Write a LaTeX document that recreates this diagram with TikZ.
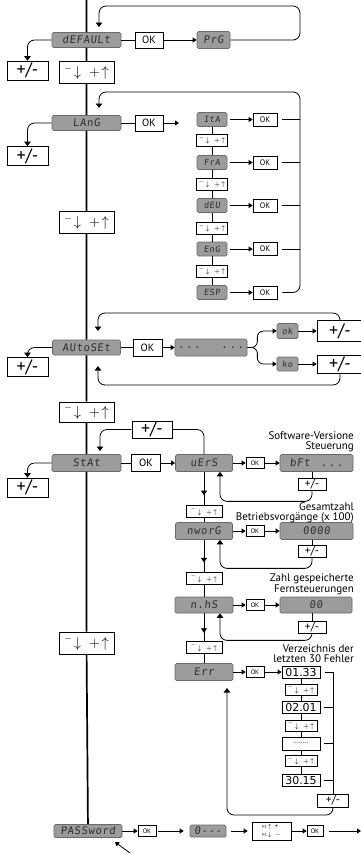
\documentclass[tikz,border=0pt]{standalone}
\usepackage{fontspec}
\setmainfont{PT Sans}
\newfontfamily\segfont{DejaVu Sans Mono}[FakeSlant=0.1, LetterSpace=6]
\newfontfamily\valfont{DejaVu Sans}
\usepackage{xcolor}
\usepackage{tikz}
\usetikzlibrary{arrows.meta,decorations.markings}
\definecolor{dispgrey}{HTML}{9C9C9C}
\definecolor{dispedge}{HTML}{6A6A6A}
\definecolor{disptext}{HTML}{2E2E2E}

\newcommand{\updn}{$^{-}\!\downarrow\;{+}\!\uparrow$}

\begin{document}
\begin{tikzpicture}[
  x=1pt, y=-1pt,
  sz/.style 2 args={minimum width=#1, minimum height=#2},
  disp/.style={draw=dispedge, fill=dispgrey, rounded corners=1.5pt, inner sep=0pt,
               line width=.7pt, text=disptext, font=\segfont\fontsize{10.5}{10.5}\selectfont},
  dispsm/.style={disp, font=\segfont\fontsize{8.5}{8.5}\selectfont},
  keybox/.style={draw=black, fill=white, inner sep=0pt, line width=.7pt},
  okbig/.style={keybox, font=\fontsize{10.5}{10.5}\selectfont, sz={28}{16}},
  okmid/.style={keybox, font=\fontsize{8}{8}\selectfont, sz={24}{13}},
  oksm/.style={keybox, font=\fontsize{6.5}{6.5}\selectfont, sz={18}{11}},
  pmbig/.style={keybox, font=\fontsize{18}{18}\selectfont, sz={41}{19}},
  pmsm/.style={keybox, font=\fontsize{11.5}{11.5}\selectfont, sz={28}{12}},
  updnbig/.style={keybox, font=\fontsize{14}{14}\selectfont, sz={55}{22}},
  updnsm/.style={keybox, font=\fontsize{7.5}{7.5}\selectfont, sz={32}{11}},
  valbox/.style={keybox, font=\valfont\fontsize{11}{11}\selectfont, sz={38}{12}},
  note/.style={align=right, inner sep=0pt, font=\fontsize{11}{10}\selectfont},
  line/.style={line width=.8pt},
  axis/.style={line width=1.7pt},
  arr/.style={line, -{Triangle[length=4pt,width=5pt]}},
  back/.style={line, rounded corners=7pt, -{Triangle[length=4.5pt,width=6.5pt]}},
  midarr/.style={line, postaction={decorate, decoration={markings,
      mark=at position #1 with {\arrow{Triangle[length=4.5pt,width=6pt]}}}}}
]
\useasboundingbox (0,0) rectangle (361,854);

% main column
\coordinate (top) at (86.5,0);
\node[disp, sz={69}{15}] (def) at (86.5,40) {dEFAULt};
\node[updnbig] (k1) at (86.5,72.5) {\updn};
\node[disp, sz={69}{15}] (lang) at (86.5,123) {LAnG};
\node[updnbig] (k2) at (86.5,222.5) {\updn};
\node[disp, sz={68}{15}] (auto) at (86.5,347.5) {AUtoSEt};
\node[updnbig, sz={55}{20}] (k3) at (86.5,412) {\updn};
\node[disp, sz={69}{17}] (stat) at (86.5,463) {StAt};
\node[updnbig] (k4) at (86.5,643) {\updn};
\node[disp, sz={68}{13}] (pass) at (88,831) {PASSword};
\draw[axis] (top) -- (def) -- (k1) -- (lang) -- (k2) -- (auto) -- (k3) -- (stat) -- (k4) -- (pass);

% +/- on the left
\node[pmbig] (pm1) at (27.5,70.5) {+/-};
\node[pmbig] (pm2) at (27.5,156) {+/-};
\node[pmbig] (pm3) at (27.5,367) {+/-};
\node[pmbig] (pm4) at (27.5,487.5) {+/-};
\draw[back] (def.west) -| (pm1.north);
\draw[back] (lang.west) -| (pm2.north);
\draw[back] (auto.west) -| (pm3.north);
\draw[back] (stat.west) -| (pm4.north);

% default
\node[okbig] (ok1) at (149,40) {OK};
\node[disp, sz={33}{17}] (prg) at (213.5,40) {PrG};
\coordinate (din) at (99,27);
\draw[line] (def) -- (ok1);
\draw[arr] (ok1) -- (prg);
\draw[back] (prg.east) -| (300,6) -| (din);

% language
\node[okbig] (ok2) at (149,123) {OK};
\coordinate (lin) at (179,123);
\draw[line] (lang) -- (ok2);
\draw[arr] (ok2) -- (lin);
\foreach \n/\t/\y in {ita/ItA/119.5, fra/FrA/162.5, deu/dEU/205.5, eng/EnG/249, esp/ESP/292.5} {
  \node[dispsm, sz={30}{14}] (\n) at (212,\y) {\t};
  \node[okmid] (o\n) at (265,\y) {OK};
  \draw[arr, shorten <=3pt] (\n) -- (o\n);
}
\foreach \n/\y in {kl1/140.5, kl2/184, kl3/228, kl4/271.5}
  \node[updnsm, sz={31}{12}] (\n) at (212,\y) {\updn};
\draw[line] (ita) -- (kl1) -- (fra) -- (kl2) -- (deu) -- (kl3) -- (eng) -- (kl4) -- (esp);
\coordinate (lrx) at (300,92);
\coordinate (lgin) at (99,108);
\draw[back, shorten <=5pt] (oesp.east) -| (lrx) -| (lgin);
\foreach \n in {ita,fra,deu,eng}
  \draw[line, shorten <=5pt] (o\n.east) -- (o\n.east -| lrx);

% autoset
\node[okbig, sz={29}{17}] (ok3) at (147.5,347.5) {OK};
\node[disp, sz={72}{17}] (dots) at (211,347.5) {.\,.\,.\quad\quad.\,.\,.};
\node[dispsm, sz={21}{15}] (okk) at (287.5,331) {ok};
\node[dispsm, sz={21}{14}] (koo) at (287.5,364) {ko};
\node[pmbig, sz={46}{21}] (pa) at (340,331) {+/-};
\node[pmbig, sz={46}{18}] (pb) at (340,364) {+/-};
\coordinate (ain) at (98,331);
\coordinate (aup) at (98,366);
\draw[line] (auto) -- (ok3);
\draw[arr] (ok3) -- (dots);
\draw[arr, rounded corners=6pt] (dots.east) -- ++(10,0) |- (okk.west);
\draw[arr, rounded corners=6pt] (dots.east) -- ++(10,0) |- (koo.west);
\draw[arr] (okk) -- (pa);
\draw[arr] (koo) -- (pb);
\draw[back] (pa.north) |- (98,313) -- (ain);
\draw[back] (pb.south) |- (98,385) -- (aup);

% stat
\node[pmbig, sz={40}{17}] (pmt) at (152,429.5) {+/-};
\node[okbig, sz={29}{17}] (ok4) at (146,463) {OK};
\coordinate (sin) at (100,451);
\draw[line] (stat) -- (ok4);
\draw[back] (pmt.west) -| (sin);

\node[disp, sz={57}{17}] (vers) at (204,463) {uErS};
\node[oksm] (os1) at (255,463) {OK};
\node[disp, sz={73}{17}] (bft) at (316.5,463) {bFt\quad.\,.\,.};
\node[pmsm] (pm5) at (312,484) {+/-};
\node[note, anchor=south east] (lb1) at (354,452) {Software-Versione\\Steuerung};
\draw[arr] (ok4) -- (vers);
\draw[arr] (vers) -- (os1);
\draw[arr] (os1) -- (bft);
\draw[line] (bft.south -| pm5) -- (pm5);
\draw[line, rounded corners=7pt] (pmt.east) -| (vers.north);
\draw[back] (pm5.south) -- ++(0,11) -| ([xshift=16pt]vers.south);

\node[updnsm, sz={36}{12}] (ks1) at (204,511.5) {\updn};
\node[disp, sz={57}{17}] (worg) at (204,531) {nworG};
\node[oksm] (os2) at (255,531) {OK};
\node[disp, sz={73}{17}] (cnt) at (316.5,531) {0000};
\node[pmsm] (pm6) at (312,551) {+/-};
\node[note, anchor=south east] (lb2) at (354,523) {Gesamtzahl\\Betriebsvorgänge (x 100)};
\draw[midarr=.7] (vers) -- (ks1);
\draw[line] (ks1) -- (worg);
\draw[arr] (worg) -- (os2);
\draw[arr] (os2) -- (cnt);
\draw[line] (cnt.south -| pm6) -- (pm6);
\draw[back] (pm6.south) -- ++(0,11) -| ([xshift=16pt]worg.south);

\node[updnsm, sz={36}{12}] (ks2) at (204,578.5) {\updn};
\node[disp, sz={58}{16}] (nhs) at (204,605) {n.hS};
\node[oksm] (os3) at (255,605) {OK};
\node[disp, sz={72}{16}] (num) at (316,605) {00};
\node[pmsm] (pm7) at (312,627) {+/-};
\node[note, anchor=south east] (lb3) at (354,595) {Zahl gespeicherte\\Fernsteuerungen};
\draw[midarr=.7] (worg) -- (ks2);
\draw[line] (ks2) -- (nhs);
\draw[arr] (nhs) -- (os3);
\draw[arr] (os3) -- (num);
\draw[line] (num.south -| pm7) -- (pm7);
\draw[back] (pm7.south) -- ++(0,7) -| ([xshift=16pt]nhs.south);

% error list
\node[updnsm, sz={36}{12}] (ks3) at (204,647.5) {\updn};
\node[disp, sz={58}{17}] (err) at (204,672) {Err};
\node[oksm] (os4) at (255,672) {OK};
\node[note, anchor=south east] (lb4) at (354,663) {Verzeichnis der\\letzten 30 Fehler};
\node[valbox] (e1) at (301,672) {01.33};
\node[updnsm] (ke1) at (301,689.5) {\updn};
\node[valbox] (e2) at (301,707) {02.01};
\node[updnsm] (ke2) at (301,725.5) {\updn};
\node[valbox, sz={38}{13}, font=\fontsize{7}{7}\selectfont] (e3) at (301,743.5) {........};
\node[updnsm] (ke3) at (301,761) {\updn};
\node[valbox] (e4) at (301,780.5) {30.15};
\node[pmsm, sz={31}{13}] (pm8) at (333,800.5) {+/-};
\coordinate (ein) at (227,688);
\draw[midarr=.7] (nhs) -- (ks3);
\draw[line] (ks3) -- (err);
\draw[arr] (err) -- (os4);
\draw[arr] (os4) -- (e1);
\draw[line] (e1) -- (ke1) -- (e2) -- (ke2) -- (e3) -- (ke3) -- (e4);
\draw[line, shorten <=5pt] (e1.east) -| (pm8.north);
\foreach \n in {e2,e3,e4}
  \draw[line, shorten <=4pt] (\n.east) -- (\n.east -| pm8.north);
\draw[back] (pm8.south) |- (227,815) -- (ein);

% password
\node[oksm] (po1) at (147,831) {OK};
\node[disp, sz={36}{12}] (zero) at (208,831) {0---};
\node[keybox, sz={39}{18}, align=left, font=\fontsize{6.5}{7.5}\selectfont] (p12) at (271.5,831)
  {{\fontsize{4}{4}\selectfont P1}\,$\uparrow$\enspace+\\{\fontsize{4}{4}\selectfont P2}\,$\downarrow$\enspace$-$};
\node[oksm, sz={16}{11}] (po2) at (315,831) {OK};
\coordinate (pout) at (361,831);
\coordinate (tail) at (130,853);
\coordinate (tip) at (115,842);
\draw[arr] (pass) -- (po1);
\draw[arr, shorten <=2pt, shorten >=6pt] (po1) -- (zero);
\draw[arr, shorten <=5pt, shorten >=4pt] (zero) -- (p12);
\draw[arr] (p12) -- (po2);
\draw[arr, shorten <=6pt] (po2) -- (pout);
\draw[arr] (tail) -- (tip);
\end{tikzpicture}
\end{document}
